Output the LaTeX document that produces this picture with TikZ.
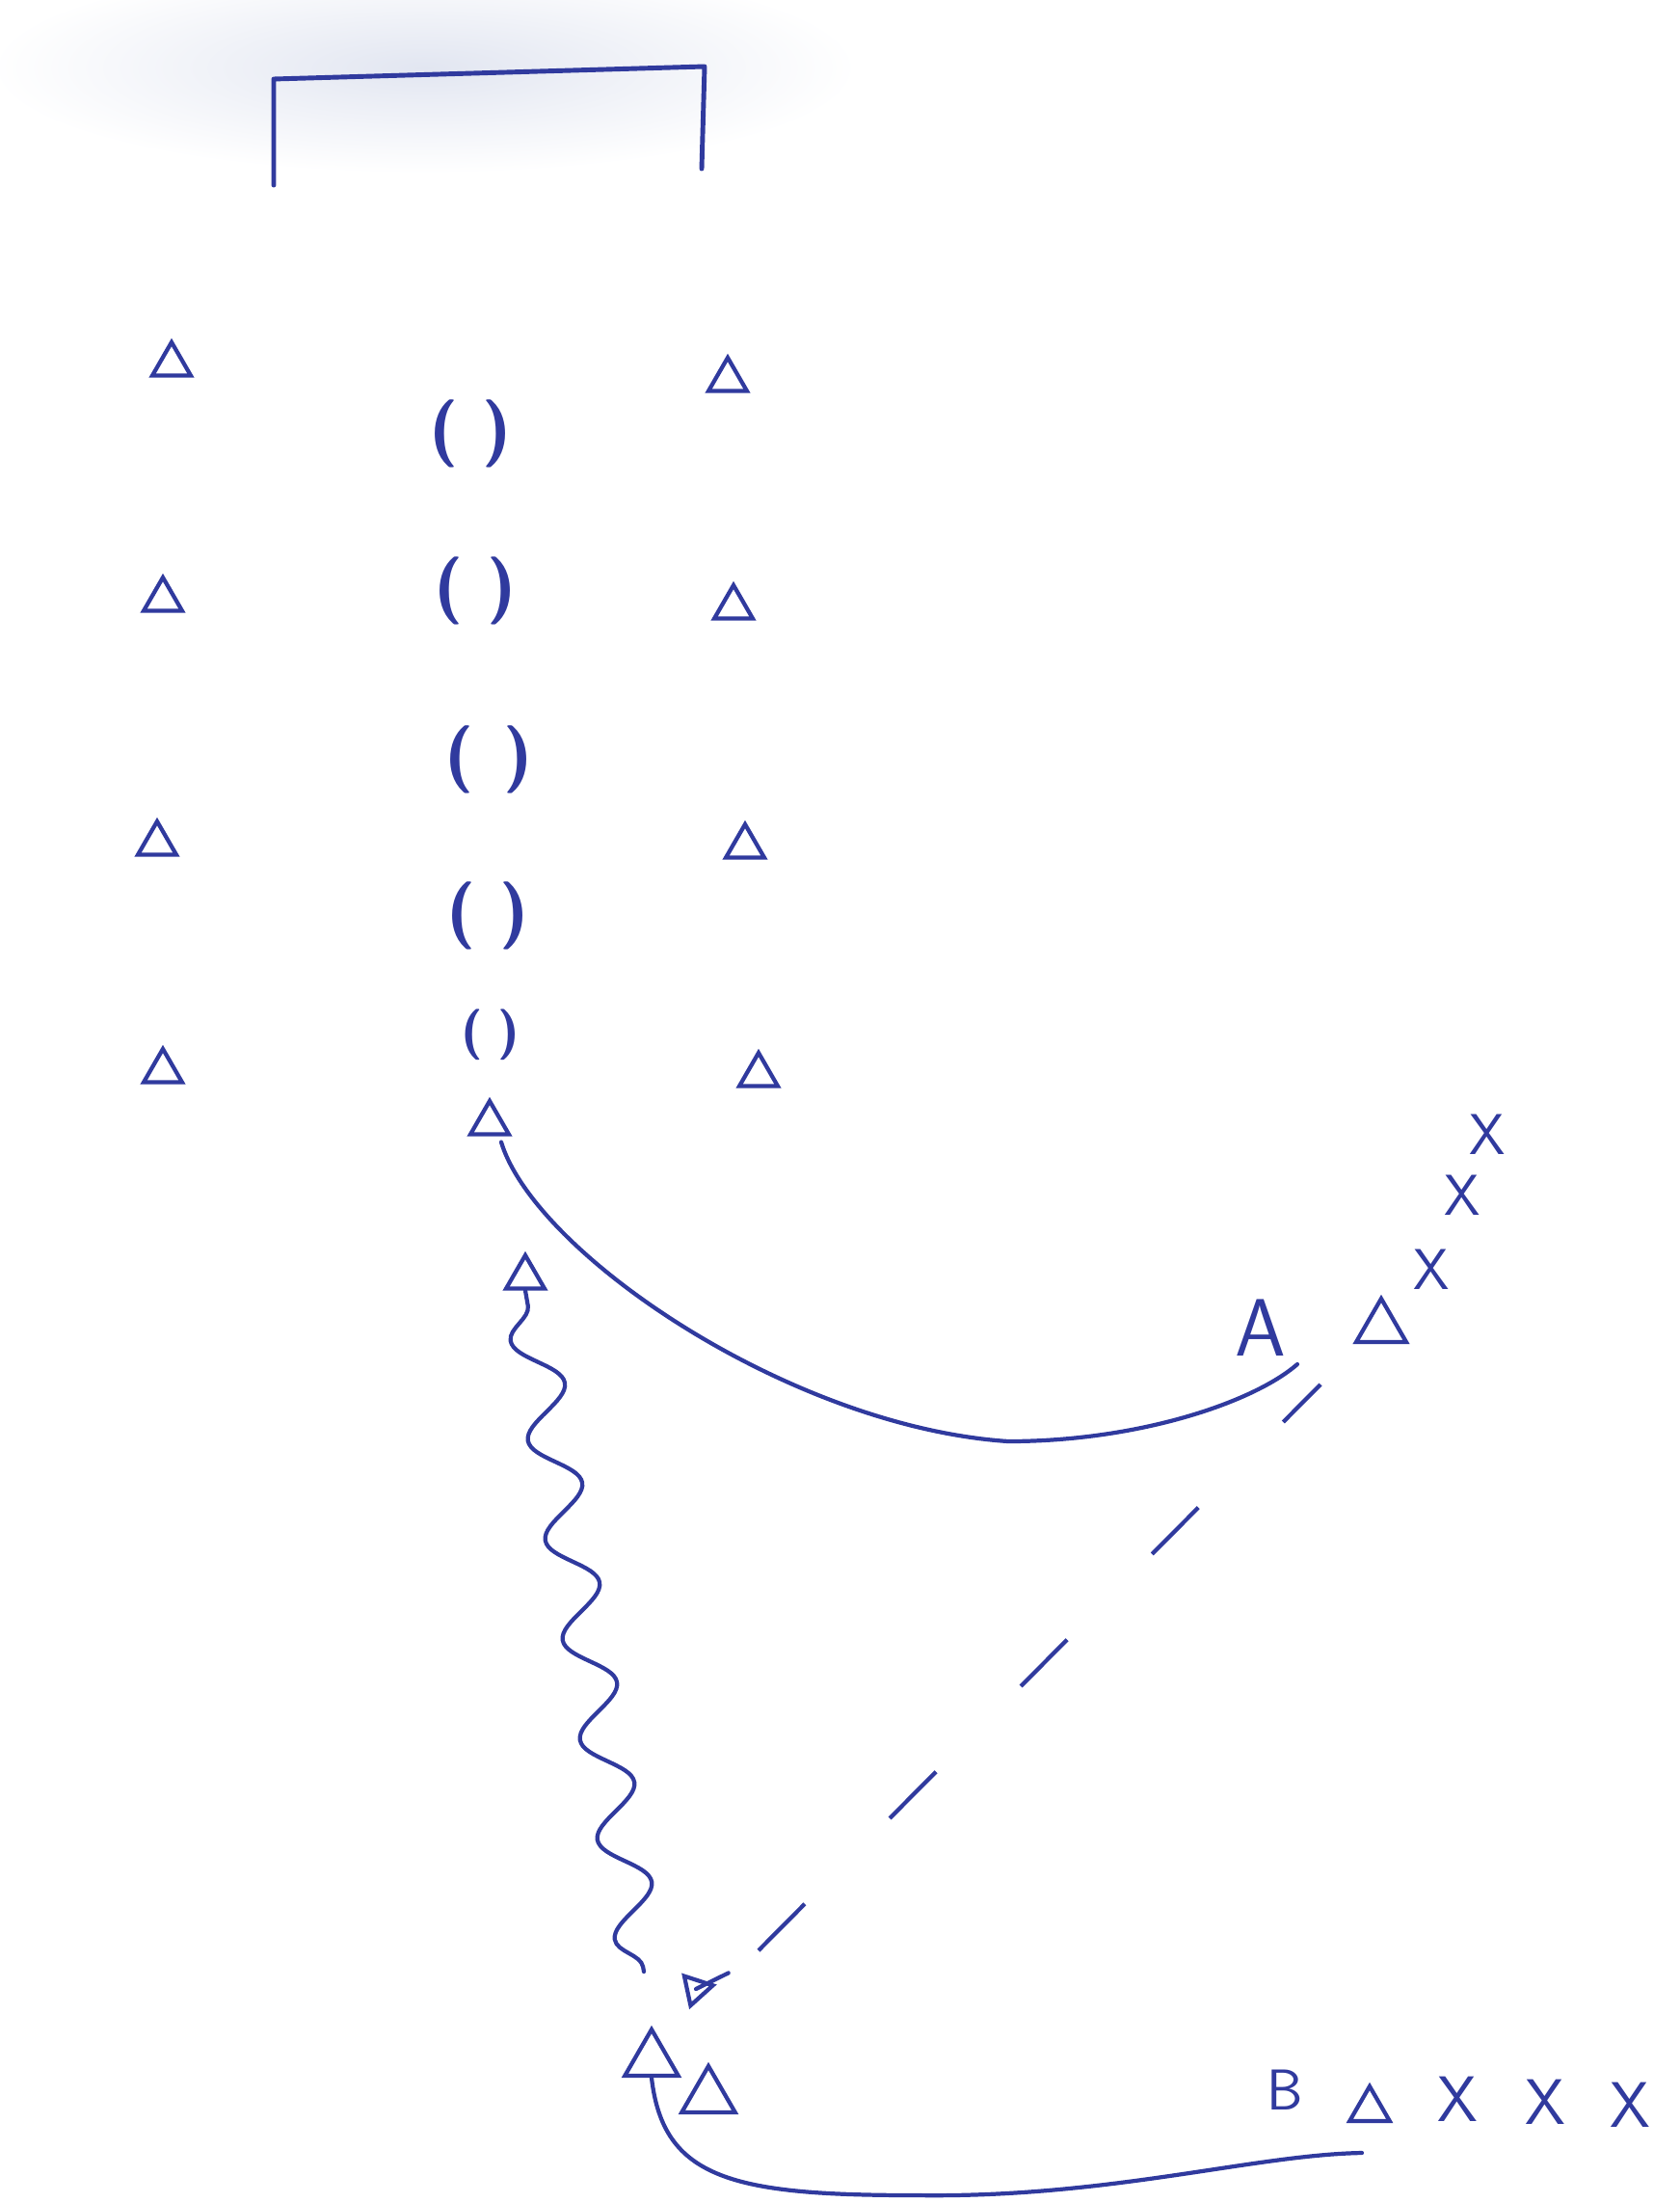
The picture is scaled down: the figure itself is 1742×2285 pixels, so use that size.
\documentclass[tikz,border=0pt]{standalone}
\usetikzlibrary{shapes.geometric,decorations.pathmorphing}
\definecolor{ink}{RGB}{48,58,158}
\definecolor{smudge}{RGB}{226,230,241}
\begin{document}
\begin{tikzpicture}[x=0.01cm,y=-0.01cm,
  cone/.style={regular polygon, regular polygon sides=3, draw=ink, line width=1.2pt,
    inner sep=0pt, minimum size=0.46cm},
  bigcone/.style={cone, minimum size=0.64cm},
  ballmark/.style={text=ink, inner sep=0pt, font=\sffamily\bfseries\fontsize{20}{20}\selectfont},
  lbl/.style={text=ink, inner sep=0pt, font=\sffamily\fontsize{17}{17}\selectfont},
  cross/.style={text=ink, inner sep=0pt, font=\sffamily\fontsize{17}{17}\selectfont},
  run/.style={draw=ink, line width=1.2pt, line cap=round},
  goalline/.style={draw=ink, line width=1.4pt, line cap=round, line join=round},
]
\useasboundingbox (0,0) rectangle (1742,2285);
% scan smudge
\shade[inner color=smudge, outer color=white] (440,70) ellipse [x radius=4.5cm, y radius=1.1cm];
% goal
\coordinate (gl) at (284,192);
\coordinate (gtl) at (284,82);
\coordinate (gtr) at (731,69);
\coordinate (gr) at (728,175);
\draw[goalline] (gl) -- (gtl) -- (gtr) -- (gr);
% left cones
\node[cone] (l1) at (178,378) {};
\node[cone] (l2) at (169,622) {};
\node[cone] (l3) at (163,875) {};
\node[cone] (l4) at (169,1111) {};
% right cones
\node[cone] (r1) at (755,394) {};
\node[cone] (r2) at (761,630) {};
\node[cone] (r3) at (773,878) {};
\node[cone] (r4) at (787,1115) {};
% middle hurdles
\node[ballmark] (b1) at (488,450) {(\hspace{0.35em})};
\node[ballmark] (b2) at (493,613) {(\hspace{0.35em})};
\node[ballmark] (b3) at (507,788) {(\hspace{0.45em})};
\node[ballmark] (b4) at (506,950) {(\hspace{0.35em})};
\node[ballmark, font=\sffamily\bfseries\fontsize{15}{15}\selectfont] (b5) at (509,1073) {(\hspace{0.3em})};
% players / cones in middle
\node[cone] (c1) at (508,1165) {};
\node[cone] (c2) at (545,1325) {};
% A group
\node[lbl, font=\sffamily\fontsize{24}{24}\selectfont] (A) at (1308,1377) {A};
\node[cone, minimum size=0.6cm] (ca) at (1433,1377) {};
\node[cross] (x1) at (1543,1177) {X};
\node[cross] (x2) at (1517,1240) {X};
\node[cross] (x3) at (1485,1317) {X};
% run from c1 to A
\coordinate (aend) at (1346,1415);
\draw[run] ([shift={(12,6)}]c1.south) .. controls (555,1300) and (820,1480) .. (1046,1495)
  .. controls (1180,1495) and (1300,1455) .. (aend);
% bowtie player
\node[cone, minimum size=0.36cm, rotate=42] (bt) at (722,2063) {};
\draw[run] (bt.center) -- ([shift={(12,-12)}]bt.corner 3);
% dashed pass
\coordinate (p1) at (787,2023);
\coordinate (p2) at (1370,1436);
\draw[run, line cap=butt, dash pattern=on 0.68cm off 1.25cm] (p1) -- (p2);
% dribble (wavy)
\coordinate (wst) at (668,2045);
\draw[run, decorate, decoration={snake, amplitude=0.24cm, segment length=1.05cm,
  pre length=0.05cm, post length=0.05cm}] (wst) -- (c2.south);
% bottom group
\node[bigcone] (c3) at (676,2137) {};
\node[bigcone] (c4) at (735,2175) {};
\node[lbl] (B) at (1333,2168) {B};
\node[cone, minimum size=0.48cm] (c5) at (1421,2188) {};
\node[cross, font=\sffamily\fontsize{19}{19}\selectfont] (x4) at (1512,2177) {X};
\node[cross, font=\sffamily\fontsize{19}{19}\selectfont] (x5) at (1603,2180) {X};
\node[cross, font=\sffamily\fontsize{19}{19}\selectfont] (x6) at (1691,2183) {X};
\coordinate (bst) at (1413,2233);
\draw[run] (bst) .. controls (1300,2235) and (1150,2280) .. (950,2277)
  .. controls (760,2277) and (688,2260) .. (c3.south);
\end{tikzpicture}
\end{document}
